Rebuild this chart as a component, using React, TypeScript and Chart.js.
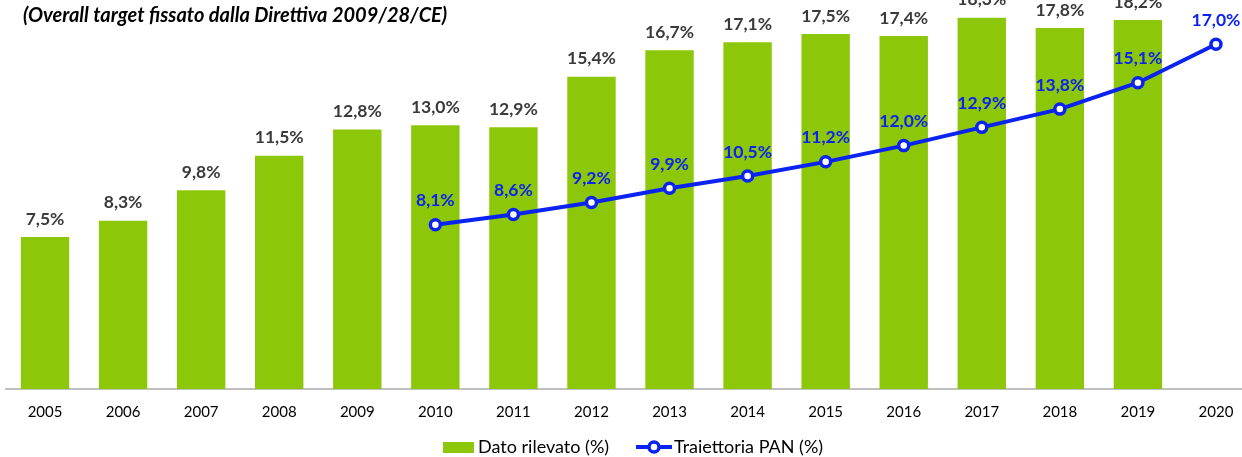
import React, { useEffect, useRef } from "react";
import { Chart, registerables } from "chart.js";

Chart.register(...registerables);

const categories = ["2005","2006","2007","2008","2009","2010","2011","2012","2013","2014","2015","2016","2017","2018","2019","2020"];
const datoRilevato = [7.5, 8.3, 9.8, 11.5, 12.8, 13.0, 12.9, 15.4, 16.7, 17.1, 17.5, 17.4, 18.3, 17.8, 18.2, null];
const traiettoriaPAN = [null, null, null, null, null, 8.1, 8.6, 9.2, 9.9, 10.5, 11.2, 12.0, 12.9, 13.8, 15.1, 17.0];
const titleText = "(Overall target fissato dalla Direttiva 2009/28/CE)";
const seriesLabels = ["Dato rilevato (%)", "Traiettoria PAN (%)"];

const GREEN = "#8CC70A";
const BLUE = "#0A23F0";
const FONT = "Lato, 'Open Sans', sans-serif";

const fmt = (v: number) => v.toFixed(1).replace(".", ",") + "%";

const labelsPlugin = {
  id: "customLabels",
  afterDatasetsDraw(chart: any) {
    const ctx = chart.ctx;
    ctx.save();
    chart.data.datasets.forEach((ds: any, di: number) => {
      const meta = chart.getDatasetMeta(di);
      meta.data.forEach((el: any, i: number) => {
        const v = ds.data[i];
        if (v === null || v === undefined) return;
        ctx.font = `bold 17.5px ${FONT}`;
        ctx.textAlign = "center";
        ctx.textBaseline = "middle";
        if (ds.type === "bar") {
          ctx.fillStyle = "#3a3a3a";
          ctx.fillText(fmt(v), el.x, el.y - 18);
        } else {
          ctx.fillStyle = BLUE;
          ctx.fillText(fmt(v), el.x, el.y - 24);
        }
      });
    });
    ctx.restore();
  },
  afterDraw(chart: any) {
    const ctx = chart.ctx;
    ctx.save();
    // title
    ctx.font = `italic bold 20px ${FONT}`;
    ctx.fillStyle = "#000";
    ctx.textAlign = "left";
    ctx.textBaseline = "middle";
    ctx.fillText(titleText, 23, 16);
    // legend
    const ly = 447;
    ctx.font = `18px ${FONT}`;
    ctx.fillStyle = GREEN;
    ctx.fillRect(443, ly - 5, 31, 11);
    ctx.fillStyle = "#000";
    ctx.fillText(chart.data.datasets[0].label, 478, ly);
    ctx.strokeStyle = BLUE;
    ctx.lineWidth = 4;
    ctx.beginPath();
    ctx.moveTo(636, ly);
    ctx.lineTo(672, ly);
    ctx.stroke();
    ctx.beginPath();
    ctx.arc(654, ly, 5, 0, Math.PI * 2);
    ctx.fillStyle = "#fff";
    ctx.fill();
    ctx.lineWidth = 3.5;
    ctx.stroke();
    ctx.fillStyle = "#000";
    ctx.fillText(chart.data.datasets[1].label, 674, ly);
    ctx.restore();
  },
};

export default function App() {
  const ref = useRef<HTMLCanvasElement>(null);
  useEffect(() => {
    if (!ref.current) return;
    const chart = new Chart(ref.current, {
      type: "bar",
      data: {
        labels: categories,
        datasets: [
          {
            type: "bar",
            label: seriesLabels[0],
            data: datoRilevato as any,
            backgroundColor: GREEN,
            categoryPercentage: 1,
            barPercentage: 0.62,
            order: 1,
          },
          {
            type: "line",
            label: seriesLabels[1],
            data: traiettoriaPAN as any,
            borderColor: BLUE,
            borderWidth: 4,
            pointRadius: 5,
            pointBorderWidth: 3.5,
            pointBackgroundColor: "#fff",
            pointBorderColor: BLUE,
            order: 0,
          } as any,
        ],
      },
      options: {
        animation: false,
        responsive: false,
        maintainAspectRatio: false,
        layout: { autoPadding: false, padding: { left: 6, right: 1, top: 0, bottom: 22 } },
        plugins: { legend: { display: false }, tooltip: { enabled: false } },
        scales: {
          x: {
            grid: { display: false, drawTicks: false },
            border: { display: true, color: "#BFBFBF", width: 2 },
            ticks: { color: "#000", font: { family: FONT, size: 15 }, padding: 14, maxRotation: 0, autoSkip: false },
          },
          y: { display: false, min: 0, max: 19.18 },
        },
      },
      plugins: [labelsPlugin],
    });
    return () => chart.destroy();
  }, []);
  return (
    <div style={{ position: "fixed", left: 0, top: 0, width: 1242, height: 457, overflow: "hidden", background: "#fff" }}>
      <canvas ref={ref} width={1256} height={457} style={{ display: "block", width: 1256, height: 457 }} />
    </div>
  );
}
